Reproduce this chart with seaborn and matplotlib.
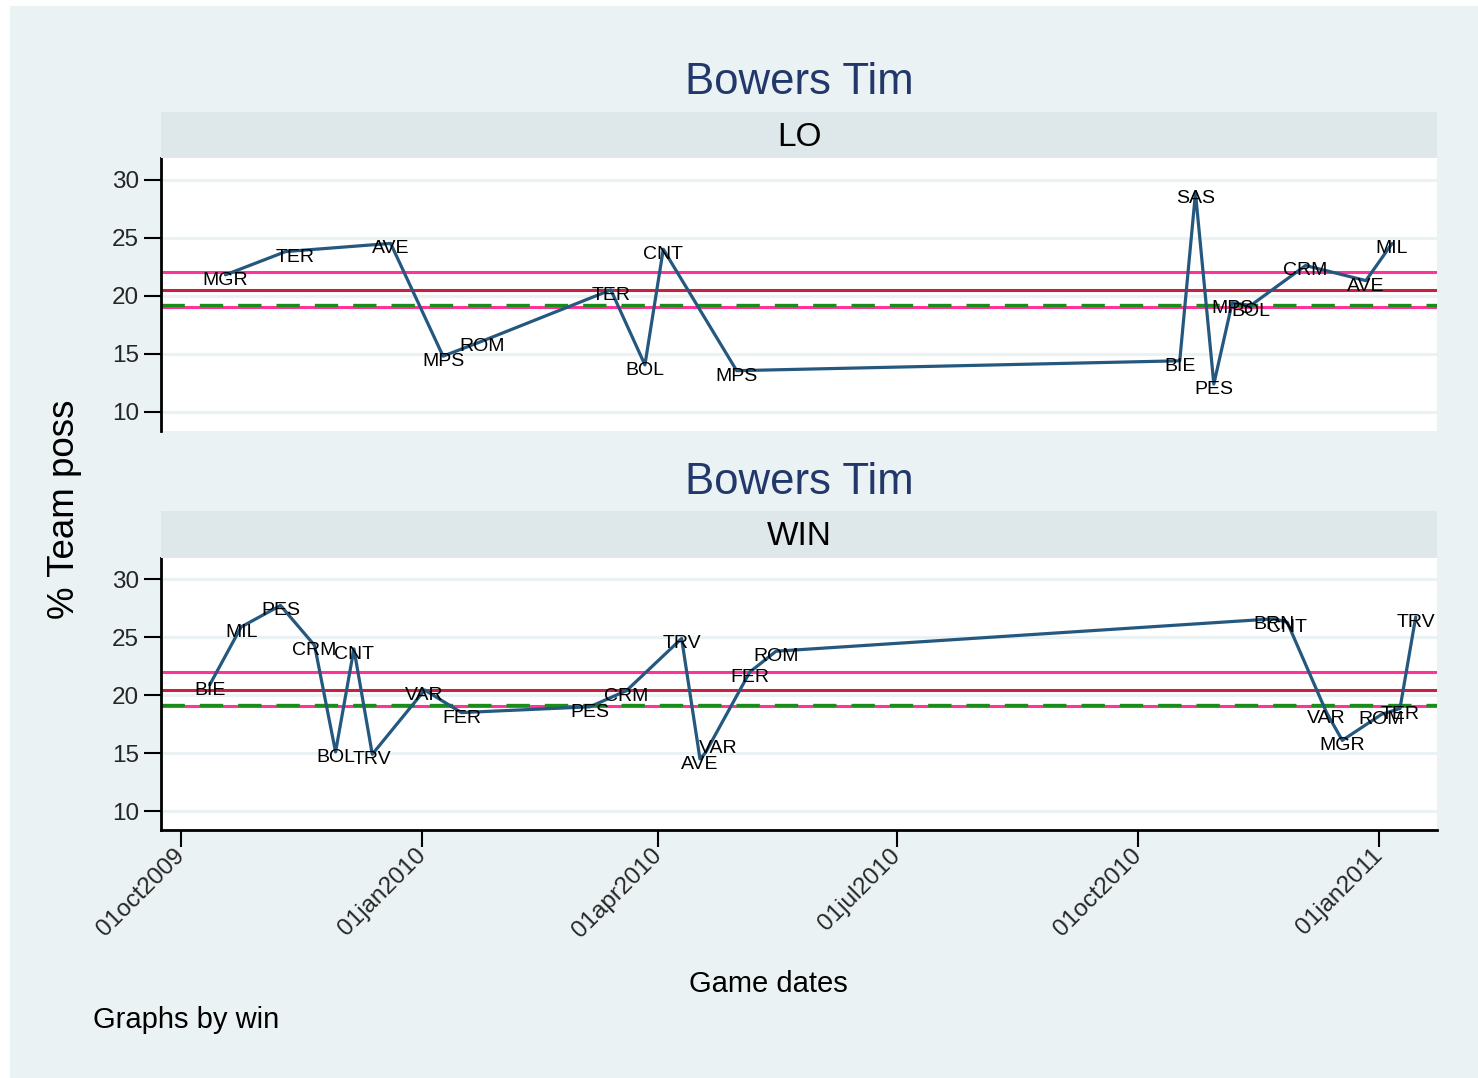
import pandas as pd
import numpy as np
import matplotlib
matplotlib.use("Agg")
import matplotlib.pyplot as plt
import matplotlib.dates as mdates
from matplotlib.patches import Rectangle
import seaborn as sns

# Data: lost games (LO)
lo_dates = ["2009-10-18", "2009-11-10", "2009-12-20", "2010-01-09", "2010-01-24",
            "2010-03-14", "2010-03-27", "2010-04-03", "2010-05-01", "2010-10-17",
            "2010-10-23", "2010-10-30", "2010-11-06", "2010-11-13", "2010-12-04",
            "2010-12-27", "2011-01-06"]
lo_poss = [21.8, 23.8, 24.5, 14.8, 16.1, 20.5, 14.05, 24.0, 13.55, 14.4,
           28.85, 12.4, 19.4, 19.15, 22.6, 21.3, 24.5]
lo_opp = ["MGR", "TER", "AVE", "MPS", "ROM", "TER", "BOL", "CNT", "MPS", "BIE",
          "SAS", "PES", "MPS", "BOL", "CRM", "AVE", "MIL"]

# Won games (WIN)
win_dates = ["2009-10-12", "2009-10-24", "2009-11-08", "2009-11-21", "2009-11-29",
             "2009-12-06", "2009-12-13", "2010-01-02", "2010-01-16", "2010-03-06",
             "2010-03-20", "2010-04-10", "2010-04-17", "2010-04-19", "2010-05-06",
             "2010-05-16", "2010-11-22", "2010-11-27", "2010-12-12", "2010-12-18",
             "2011-01-02", "2011-01-09", "2011-01-15"]
win_poss = [20.9, 25.9, 27.75, 24.3, 15.1, 24.0, 14.9, 20.45, 18.5, 19.0,
            20.4, 24.9, 14.5, 15.0, 22.0, 23.8, 26.6, 26.3, 18.5, 16.1,
            18.35, 18.85, 26.75]
win_opp = ["BIE", "MIL", "PES", "CRM", "BOL", "CNT", "TRV", "VAR", "FER", "PES",
           "CRM", "TRV", "AVE", "VAR", "FER", "ROM", "BRN", "CNT", "VAR", "MGR",
           "ROM", "TER", "TRV"]

# Reference lines
ref_upper = 22.0
ref_mid = 20.45
ref_dash = 19.18
ref_lower = 19.03

y_ticks = [10, 15, 20, 25, 30]
x_ticks = ["2009-10-01", "2010-01-01", "2010-04-01", "2010-07-01", "2010-10-01", "2011-01-01"]
x_ticklabels = ["01oct2009", "01jan2010", "01apr2010", "01jul2010", "01oct2010", "01jan2011"]

panels = [("LO", lo_dates, lo_poss, lo_opp), ("WIN", win_dates, win_poss, win_opp)]

# label nudges (points) where the original moved a marker label
nudge = {("LO", 1): (7, 0), ("WIN", 13): (9, 7)}

# Style
BG = "#eaf2f3"
STRIP = "#dee8ea"
LINE = "#24587f"
TITLE = "#22386b"

sns.set_theme(style="white", rc={
    "axes.facecolor": "white",
    "figure.facecolor": "white",
    "axes.edgecolor": "black",
})
plt.rcParams['font.family'] = ['Liberation Sans', 'DejaVu Sans']

W, H = 1478, 1078
fig = plt.figure(figsize=(W / 100, H / 100), dpi=100)
fig.patches.append(Rectangle((10 / W, 0), 1 - 10 / W, 1 - 6 / H,
                             transform=fig.transFigure, facecolor=BG,
                             edgecolor="none", zorder=-10))

left, right = 161, 1437
layout = [  # (title y, strip top, strip bottom / axes top, axes bottom)
    (83, 112, 158, 431),
    (483, 511, 558, 830),
]

xmin = mdates.date2num(pd.Timestamp("2009-09-23 10:00"))
xmax = mdates.date2num(pd.Timestamp("2011-01-23 03:00"))

for i, ((name, dates, poss, opp), (ty, st, at, ab)) in enumerate(zip(panels, layout)):
    ax = fig.add_axes([left / W, 1 - ab / H, (right - left) / W, (ab - at) / H])
    strip = fig.add_axes([left / W, 1 - at / H, (right - left) / W, (at - st) / H])
    strip.set_facecolor(STRIP)
    strip.set_xticks([])
    strip.set_yticks([])
    for s in strip.spines.values():
        s.set_visible(False)
    strip.text(0.5, 0.45, name, ha="center", va="center", fontsize=24, color="black",
               transform=strip.transAxes)
    fig.text((left + right) / 2 / W, 1 - ty / H, "Bowers Tim", ha="center",
             va="center", fontsize=31.5, color=TITLE)

    df = pd.DataFrame({"date": pd.to_datetime(dates), "poss": poss, "opp": opp})

    for yv in y_ticks:
        ax.axhline(yv, color=BG, lw=2.2, zorder=0)
    ax.axhline(ref_upper, color="#ff3399", lw=2.2, zorder=1)
    ax.axhline(ref_mid, color="#c9203f", lw=2.2, zorder=1)
    ax.axhline(ref_lower, color="#ff3399", lw=2.2, zorder=1)
    ax.axhline(ref_dash, color="#1a8c1a", lw=2.4, dashes=(7, 4.5), zorder=2)

    sns.lineplot(data=df, x="date", y="poss", ax=ax, color=LINE, lw=2.3,
                 sort=False, estimator=None, zorder=3)
    for k, (d, p, o) in enumerate(zip(df["date"], df["poss"], df["opp"])):
        dx, dy = nudge.get((name, k), (0, 0))
        ax.annotate(o, (mdates.date2num(d), p), xytext=(dx, dy - 2.5),
                    textcoords="offset points", ha="center", va="center_baseline",
                    fontsize=14, color="black", zorder=4)

    ax.set_xlim(xmin, xmax)
    ax.set_ylim(8.36, 31.85)
    ax.set_yticks(y_ticks)
    ax.set_yticklabels([str(v) for v in y_ticks], fontsize=17.5)
    ax.set_xticks([mdates.date2num(pd.Timestamp(t)) for t in x_ticks])
    ax.tick_params(axis="y", left=True, length=12, width=1.5, pad=4, color="black")
    ax.set_xlabel("")
    ax.set_ylabel("")
    for s in ["top", "right"]:
        ax.spines[s].set_visible(False)
    ax.spines["left"].set_linewidth(2)
    if i == 0:
        ax.spines["bottom"].set_visible(False)
        ax.tick_params(axis="x", bottom=False, labelbottom=False)
    else:
        ax.spines["bottom"].set_linewidth(2)
        ax.tick_params(axis="x", bottom=True, length=12, width=1.5, pad=4, color="black")
        ax.set_xticklabels(x_ticklabels, rotation=45, ha="right", va="center",
                           rotation_mode="anchor", fontsize=17.5)

fig.text(65 / W, 1 - 509 / H, "% Team poss", rotation=90, ha="center", va="center",
         fontsize=26.5, color="black")
fig.text(768 / W, 1 - 984 / H, "Game dates", ha="center", va="center",
         fontsize=21, color="black")
fig.text(93 / W, 1 - 1020 / H, "Graphs by win", ha="left", va="center",
         fontsize=21, color="black")

plt.savefig("out.png", dpi=100)
